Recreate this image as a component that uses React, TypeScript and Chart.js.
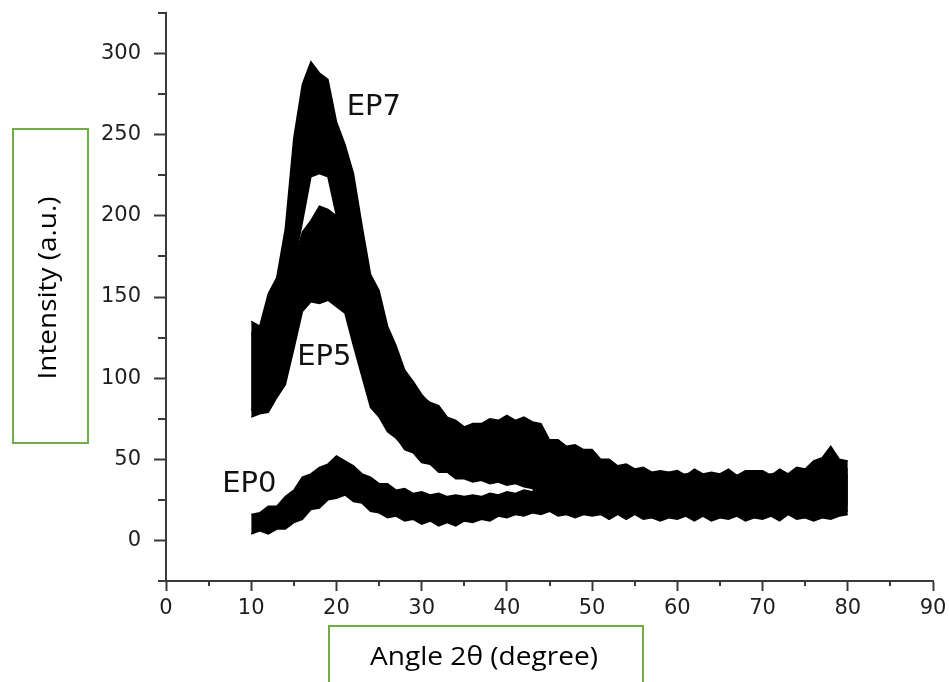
import React, { useEffect, useRef } from "react";
import { Chart, registerables } from "chart.js";

Chart.register(...registerables);

// ---- data ----
const ANGLES = [10, 11, 12, 13, 14, 15, 16, 17, 18, 19, 20, 21, 22, 23, 24, 25, 26, 27, 28, 29, 30, 31, 32, 33, 34, 35, 36, 37, 38, 39, 40, 41, 42, 43, 44, 45, 46, 47, 48, 49, 50, 51, 52, 53, 54, 55, 56, 57, 58, 59, 60, 61, 62, 63, 64, 65, 66, 67, 68, 69, 70, 71, 72, 73, 74, 75, 76, 77, 78, 79, 80];

const EP7_UPPER = [135, 132, 152, 162, 192, 248, 281, 295, 288, 284, 258, 244, 226, 194, 164, 154, 132, 120, 105, 98, 90, 84, 80, 72, 70, 66, 65, 63, 63, 61, 62, 59, 58, 57, 53, 53, 49, 49, 46, 47, 44, 45, 43, 44, 42, 43, 41, 42, 40, 42, 40, 41, 42, 40, 41, 40, 42, 40, 41, 42, 40, 41, 42, 40, 42, 43, 44, 46, 47, 45, 44];
const EP7_LOWER = [80, 86, 94, 114, 136, 170, 196, 224, 226, 224, 200, 184, 158, 132, 104, 92, 74, 64, 56, 54, 48, 47, 42, 42, 38, 38, 36, 37, 35, 36, 34, 35, 33, 32, 27, 26, 22, 23, 20, 22, 19, 21, 19, 20, 18, 20, 18, 19, 17, 19, 17, 19, 18, 17, 19, 18, 17, 19, 18, 17, 19, 18, 17, 19, 18, 17, 19, 18, 17, 19, 18];

const EP5_UPPER = [128, 126, 137, 144, 162, 171, 190, 197, 206, 204, 200, 188, 178, 160, 150, 134, 125, 110, 102, 93, 89, 85, 83, 76, 74, 70, 72, 72, 75, 74, 77, 74, 76, 73, 72, 62, 62, 58, 59, 56, 56, 50, 50, 46, 47, 44, 45, 42, 43, 42, 43, 40, 44, 41, 42, 41, 44, 40, 43, 43, 43, 40, 44, 41, 45, 44, 49, 51, 58, 50, 49];
const EP5_LOWER = [76, 78, 79, 88, 96, 118, 141, 147, 146, 148, 144, 140, 120, 101, 82, 76, 67, 63, 57, 57, 54, 54, 50, 50, 47, 48, 46, 48, 46, 47, 45, 46, 42, 40, 32, 28, 24, 25, 23, 25, 22, 24, 22, 23, 21, 23, 21, 22, 21, 23, 21, 22, 21, 23, 21, 22, 21, 23, 21, 22, 21, 23, 21, 22, 21, 23, 21, 22, 21, 23, 22];

const EP0_UPPER = [16, 17, 21, 21, 27, 31, 39, 41, 45, 47, 52, 49, 46, 41, 39, 35, 35, 31, 32, 29, 30, 28, 29, 27, 28, 27, 28, 27, 29, 28, 30, 29, 31, 30, 36, 39, 41, 39, 40, 38, 41, 38, 40, 38, 41, 39, 40, 38, 40, 39, 41, 38, 40, 39, 41, 38, 40, 39, 41, 38, 40, 39, 41, 38, 40, 39, 41, 40, 43, 41, 40];
const EP0_LOWER = [4, 6, 4, 7, 7, 11, 13, 19, 20, 25, 26, 28, 24, 23, 18, 17, 14, 15, 12, 13, 10, 12, 9, 11, 9, 12, 11, 13, 12, 15, 14, 16, 15, 17, 16, 18, 15, 16, 14, 16, 15, 16, 13, 16, 13, 16, 13, 14, 12, 14, 13, 15, 12, 15, 12, 14, 13, 15, 12, 14, 13, 15, 12, 16, 13, 14, 12, 14, 13, 15, 16];

const SERIES_LABELS = ["EP7", "EP5", "EP0"];
const LABEL_X = [21.2, 15.4, 6.6];
const LABEL_Y = [262, 108, 30];

const X_MIN = 0;
const X_MAX = 90;
const X_STEP = 10;
const X_MINOR = [5, 15, 25, 35, 45, 55, 65, 75, 85];
const Y_MIN = -25;
const Y_MAX = 325;
const Y_TICKS = [0, 50, 100, 150, 200, 250, 300];
const Y_MINOR = [-25, 25, 75, 125, 175, 225, 275, 325];

const X_TITLE = "Angle 2θ (degree)";
const Y_TITLE = "Intensity (a.u.)";

// ---- styles ----
const AXIS_COLOR = "#3a3a3a";
const TICK_TEXT = "#1e1e1e";
const BOX_GREEN = "#70AD47";
const TICK_FONT = { family: "'DejaVu Sans', Arial, sans-serif", size: 21 };

function pts(ys: number[]) {
  return ANGLES.map((a, i) => ({ x: a, y: ys[i] }));
}

function zeroPad(s: any) {
  s.paddingTop = 0;
  s.paddingBottom = 0;
  s.paddingLeft = 0;
  s.paddingRight = 0;
}

const decorPlugin = {
  id: "decor",
  afterDraw(chart: any) {
    const { ctx, chartArea } = chart;
    const xs = chart.scales.x;
    const ys = chart.scales.y;
    ctx.save();
    // minor ticks
    ctx.strokeStyle = AXIS_COLOR;
    ctx.lineWidth = 2;
    ctx.beginPath();
    for (const v of X_MINOR) {
      const px = Math.round(xs.getPixelForValue(v));
      ctx.moveTo(px, chartArea.bottom);
      ctx.lineTo(px, chartArea.bottom + 5);
    }
    for (const v of Y_MINOR) {
      const py = Math.round(ys.getPixelForValue(v));
      ctx.moveTo(chartArea.left - 8, py);
      ctx.lineTo(chartArea.left, py);
    }
    ctx.stroke();

    // series labels
    ctx.fillStyle = "#111";
    ctx.font = "29px 'DejaVu Sans', Arial, sans-serif";
    ctx.textAlign = "left";
    ctx.textBaseline = "alphabetic";
    SERIES_LABELS.forEach((t, i) => {
      ctx.fillText(t, xs.getPixelForValue(LABEL_X[i]), ys.getPixelForValue(LABEL_Y[i]));
    });

    // axis title boxes
    ctx.strokeStyle = BOX_GREEN;
    ctx.lineWidth = 2;
    ctx.strokeRect(13, 129, 75, 314);
    ctx.strokeRect(329, 626, 314, 80);

    // axis titles
    ctx.fillStyle = "#000";
    ctx.font = "25px 'Open Sans', sans-serif";
    ctx.textAlign = "center";
    ctx.textBaseline = "alphabetic";
    const wx = ctx.measureText(X_TITLE).width;
    ctx.save();
    ctx.translate(484, 665);
    ctx.scale(228 / wx, 1);
    ctx.fillText(X_TITLE, 0, 0);
    ctx.restore();

    const wy = ctx.measureText(Y_TITLE).width;
    ctx.save();
    ctx.translate(56, 288);
    ctx.rotate(-Math.PI / 2);
    ctx.scale(183 / wy, 1);
    ctx.fillText(Y_TITLE, 0, 0);
    ctx.restore();

    ctx.restore();
  },
};

export default function App() {
  const ref = useRef<HTMLCanvasElement | null>(null);
  useEffect(() => {
    if (!ref.current) return;
    const band = (upper: number[], lower: number[]) => [
      {
        data: pts(upper),
        borderColor: "#000",
        borderWidth: 1.5,
        pointRadius: 0,
        fill: false,
        tension: 0,
      },
      {
        data: pts(lower),
        borderColor: "#000",
        borderWidth: 1.5,
        pointRadius: 0,
        backgroundColor: "#000",
        fill: "-1",
        tension: 0,
      },
    ];
    const chart = new Chart(ref.current, {
      type: "line",
      data: {
        datasets: [
          ...band(EP7_UPPER, EP7_LOWER),
          ...band(EP5_UPPER, EP5_LOWER),
          ...band(EP0_UPPER, EP0_LOWER),
        ] as any,
      },
      options: {
        animation: false,
        responsive: false,
        layout: { padding: { top: 13, right: 16, left: 0, bottom: 0 } },
        plugins: { legend: { display: false }, tooltip: { enabled: false }, title: { display: false } },
        scales: {
          x: {
            type: "linear",
            min: X_MIN,
            max: X_MAX,
            afterFit: (s: any) => {
              s.height = 101;
              zeroPad(s);
            },
            ticks: { stepSize: X_STEP, autoSkip: false, maxRotation: 0, font: TICK_FONT, color: TICK_TEXT, padding: 5 },
            grid: { drawOnChartArea: false, drawTicks: true, tickLength: 10, tickWidth: 2, tickColor: AXIS_COLOR },
            border: { color: AXIS_COLOR, width: 2 },
          },
          y: {
            type: "linear",
            min: Y_MIN,
            max: Y_MAX,
            afterBuildTicks: (s: any) => {
              s.ticks = Y_TICKS.map((v) => ({ value: v }));
            },
            afterFit: (s: any) => {
              s.width = 166;
              zeroPad(s);
            },
            ticks: { autoSkip: false, font: TICK_FONT, color: TICK_TEXT, padding: 13 },
            grid: { drawOnChartArea: false, drawTicks: true, tickLength: 12, tickWidth: 2, tickColor: AXIS_COLOR },
            border: { color: AXIS_COLOR, width: 2 },
          },
        },
      },
      plugins: [decorPlugin],
    });
    return () => chart.destroy();
  }, []);
  return (
    <div style={{ position: "fixed", left: 0, top: 0, width: 949, height: 682, background: "#fff" }}>
      <canvas ref={ref} width={949} height={682} style={{ width: 949, height: 682, display: "block" }} />
    </div>
  );
}
